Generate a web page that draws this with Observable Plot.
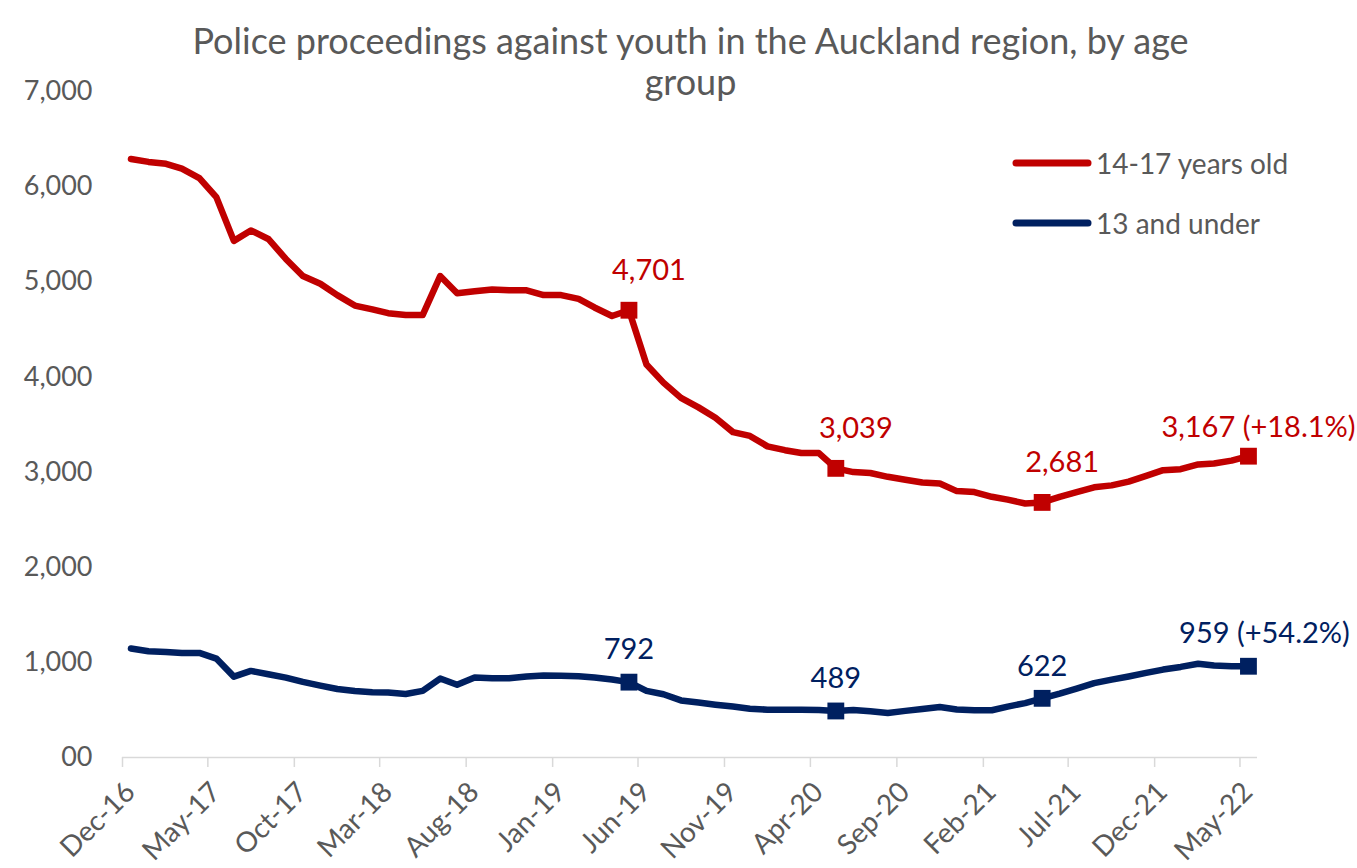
<!DOCTYPE html>
<html>
<head>
<meta charset="utf-8">
<script src="https://cdn.jsdelivr.net/npm/d3@7"></script>
<script src="https://cdn.jsdelivr.net/npm/@observablehq/plot@0.6"></script>
<style>
  body { margin: 0; background: #fff; }
  #wrap { position: relative; width: 1357px; height: 868px; overflow: hidden; }
  #title { position: absolute; left: 24px; width: 1333px; top: 20px; text-align: center;
           font-family: Lato, "Open Sans", sans-serif; font-size: 36px; line-height: 41px; color: #595959; }
  #legend { position: absolute; left: 1010px; top: 140px; font-family: Lato, sans-serif; font-size: 28px; color: #595959; }
  .li { display: flex; align-items: center; height: 46px; margin-bottom: 14px; }
  .li svg { margin-right: 4px; }
</style>
</head>
<body>
<div id="wrap">
  <div id="chart"></div>
  <div id="title">Police proceedings against youth in the Auckland region, by age<br>group</div>
  <div id="legend"></div>
</div>
<script>
// ---- data ----
const firstMonth = "2016-12";           // Dec-16, monthly series through May-22
const seriesNames = ["14-17 years old", "13 and under"];
const seriesColors = ["#c00000", "#002060"];

const age14to17 = [
  6290, 6260, 6240, 6190, 6090, 5890, 5430, 5540, 5450, 5240,
  5060, 4980, 4860, 4750, 4710, 4670, 4650, 4650, 5060, 4880,
  4900, 4920, 4910, 4910, 4860, 4860, 4820, 4730, 4640, 4701,
  4130, 3940, 3780, 3680, 3570, 3420, 3380, 3270, 3230, 3200,
  3200, 3039, 3000, 2990, 2950, 2920, 2890, 2880, 2800, 2790,
  2740, 2710, 2670, 2681, 2740, 2790, 2840, 2860, 2900, 2960,
  3020, 3030, 3080, 3090, 3120, 3167
];
const age13under = [
  1145, 1117, 1110, 1099, 1099, 1040, 850, 910, 875, 840,
  795, 755, 720, 700, 685, 683, 668, 700, 830, 765,
  840, 832, 832, 852, 862, 860, 853, 840, 820, 792,
  700, 665, 600, 578, 555, 535, 512, 503, 502, 502,
  500, 489, 500, 485, 468, 490, 510, 530, 505, 497,
  497, 535, 572, 622, 672, 725, 782, 818, 852, 890,
  924, 952, 985, 966, 959, 959
];

const markerMonths = ["2019-05", "2020-05", "2021-05", "2022-05"];
const labels14to17 = ["4,701", "3,039", "2,681", "3,167 (+18.1%)"];
const labels13under = ["792", "489", "622", "959 (+54.2%)"];

const xTickLabels = ["Dec-16","May-17","Oct-17","Mar-18","Aug-18","Jan-19","Jun-19",
                     "Nov-19","Apr-20","Sep-20","Feb-21","Jul-21","Dec-21","May-22"];
const yTicks = [0, 1000, 2000, 3000, 4000, 5000, 6000, 7000];
const yTickLabels = ["00", "1,000", "2,000", "3,000", "4,000", "5,000", "6,000", "7,000"];

// ---- build tables ----
const parseMonth = d3.utcParse("%Y-%m");
const start = parseMonth(firstMonth);
const mid = m => d3.utcDay.offset(m, 15);
const rows = [];
[age14to17, age13under].forEach((vals, s) => {
  vals.forEach((v, i) => rows.push({series: seriesNames[s], month: d3.utcMonth.offset(start, i), date: mid(d3.utcMonth.offset(start, i)), value: v}));
});
const markerKeys = new Set(markerMonths.map(m => +parseMonth(m)));
const markers = rows.filter(r => markerKeys.has(+r.month));
const labelRows = markers.map(r => {
  const k = markerMonths.findIndex(m => +parseMonth(m) === +r.month);
  return {...r, k, label: r.series === seriesNames[0] ? labels14to17[k] : labels13under[k]};
});
const parseTick = d3.utcParse("%b-%y");
const tickDates = xTickLabels.map(parseTick);
const tickMap = new Map(tickDates.map((d, i) => [+d, xTickLabels[i]]));
const yMap = new Map(yTicks.map((d, i) => [d, yTickLabels[i]]));

const domainEnd = d3.utcMonth.offset(start, age14to17.length);
const isRed = r => r.series === seriesNames[0];
const lastK = markerMonths.length - 1;

const chart = Plot.plot({
  width: 1357, height: 868,
  marginLeft: 122, marginRight: 100, marginTop: 91, marginBottom: 111,
  style: {fontFamily: "Lato, 'Open Sans', sans-serif", background: "#fff", overflow: "visible"},
  x: {type: "utc", domain: [start, domainEnd]},
  y: {domain: [0, 7000]},
  marks: [
    Plot.ruleY([0], {stroke: "#d9d9d9", strokeWidth: 1.5}),
    Plot.axisY({ticks: yTicks, tickFormat: d => yMap.get(d), tickSize: 0, tickPadding: 30,
                fontSize: 27, fill: "#595959", label: null}),
    Plot.axisX({ticks: tickDates, tickSize: 10, tickFormat: () => "", stroke: "#d9d9d9", strokeWidth: 1.5, label: null}),
    Plot.axisX({ticks: tickDates, tickFormat: d => tickMap.get(+d), tickSize: 0, tickPadding: 30,
                tickRotate: -45, dx: 8, fill: "#595959", stroke: "none", fontSize: 28, label: null}),
    ...seriesNames.map((name, s) =>
      Plot.line(rows.filter(r => r.series === name), {x: "date", y: "value", stroke: seriesColors[s],
        strokeWidth: 6.5, strokeLinejoin: "round", strokeLinecap: "round"})),
    ...seriesNames.map((name, s) =>
      Plot.dot(markers.filter(r => r.series === name), {x: "date", y: "value", symbol: "square",
        r: 9.5, fill: seriesColors[s], stroke: "none"})),
    // middle labels
    Plot.text(labelRows.filter(r => isRed(r) && r.k < lastK), {x: "date", y: "value", text: "label",
      fill: seriesColors[0], fontSize: 29, dy: -40, dx: 20}),
    Plot.text(labelRows.filter(r => !isRed(r) && r.k < lastK), {x: "date", y: "value", text: "label",
      fill: seriesColors[1], fontSize: 29, dy: -32, dx: 0}),
    // end labels
    Plot.text(labelRows.filter(r => isRed(r) && r.k === lastK), {x: "date", y: "value", text: "label",
      fill: seriesColors[0], fontSize: 29, dy: -28, dx: 10}),
    Plot.text(labelRows.filter(r => !isRed(r) && r.k === lastK), {x: "date", y: "value", text: "label",
      fill: seriesColors[1], fontSize: 29, dy: -33, dx: 16})
  ]
});
document.getElementById("chart").appendChild(chart);

// legend
const legend = document.getElementById("legend");
seriesNames.forEach((name, s) => {
  const item = document.createElement("div");
  item.className = "li";
  item.innerHTML = `<svg width="82" height="12"><line x1="6" y1="6" x2="78" y2="6" stroke="${seriesColors[s]}" stroke-width="7" stroke-linecap="round"/></svg><span>${name}</span>`;
  legend.appendChild(item);
});
</script>
</body>
</html>
